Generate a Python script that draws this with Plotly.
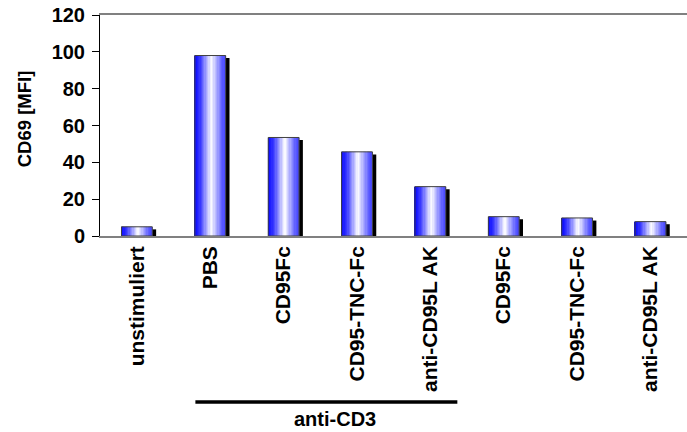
import plotly.graph_objects as go

labels = ["unstimuliert", "PBS", "CD95Fc", "CD95-TNC-Fc", "anti-CD95L AK",
          "CD95Fc", "CD95-TNC-Fc", "anti-CD95L AK"]
values = [5, 98, 53.5, 45.7, 26.8, 10.5, 9.8, 7.8]
y_ticks = [0, 20, 40, 60, 80, 100, 120]
group_label = "anti-CD3"
y_title = "CD69 [MFI]"

positions = list(range(len(labels)))
FONT = "Liberation Sans, Arial, sans-serif"

bar_w = 0.42
n_strips = 24
# gradient profile (t -> rgb) left to right
profile = [(0.0, (0, 0, 255)), (0.2, (60, 60, 255)), (0.4, (170, 170, 255)),
           (0.55, (255, 255, 255)), (0.72, (175, 175, 255)), (0.9, (95, 95, 255)),
           (1.0, (70, 70, 255))]


def color_at(t):
    for (t0, c0), (t1, c1) in zip(profile[:-1], profile[1:]):
        if t0 <= t <= t1:
            f = (t - t0) / (t1 - t0)
            c = [round(a + (b - a) * f) for a, b in zip(c0, c1)]
            return f"rgb({c[0]},{c[1]},{c[2]})"
    return "rgb(70,70,255)"


fig = go.Figure()

# shadow
shadow_dx = 0.055
shadow_dy = 1.4
fig.add_trace(go.Bar(
    x=positions, y=values, base=[-shadow_dy] * len(values),
    width=bar_w, offset=-bar_w / 2 + shadow_dx,
    marker=dict(color="black", line=dict(width=0)),
    cliponaxis=False, hoverinfo="skip", showlegend=False))

# gradient strips
sw = bar_w / n_strips
for i in range(n_strips):
    t = (i + 0.5) / n_strips
    fig.add_trace(go.Bar(
        x=positions, y=values,
        width=sw * 1.3, offset=-bar_w / 2 + i * sw,
        marker=dict(color=color_at(t), line=dict(width=0)),
        hoverinfo="skip", showlegend=False))

# outline
fig.add_trace(go.Bar(
    x=positions, y=values, width=bar_w, offset=-bar_w / 2 + sw * 0.15,
    marker=dict(color="rgba(0,0,0,0)", line=dict(color="#404040", width=1)),
    showlegend=False))

fig.update_layout(
    width=687, height=432,
    margin=dict(l=100, r=0, t=15, b=196),
    barmode="overlay",
    plot_bgcolor="white", paper_bgcolor="white",
    font=dict(family=FONT, color="black"),
    xaxis=dict(
        range=[-0.5, 7.5], tickvals=positions, ticktext=labels,
        tickangle=-90, ticks="", showgrid=False, zeroline=False,
        showline=True, linecolor="#808080", linewidth=1.5, mirror=True,
        tickfont=dict(family=FONT, size=21, weight="bold", color="black"),
        ticklabelstandoff=0),
    yaxis=dict(
        range=[0, 120], tickvals=y_ticks, showgrid=False, zeroline=False,
        showline=True, linecolor="black", linewidth=1,
        ticks="outside", ticklen=7, tickcolor="black",
        tickfont=dict(family=FONT, size=20, weight="bold", color="black"),
        ticklabelstandoff=3, ticklabeloverflow="allow"),
    shapes=[dict(type="line", xref="x", yref="paper", x0=0.8, x1=4.37,
                 y0=-0.751, y1=-0.751, line=dict(color="black", width=3.5))],
    annotations=[
        dict(text=group_label, xref="x", yref="paper", x=2.7, y=-0.828,
             showarrow=False, xanchor="center", yanchor="middle",
             font=dict(family=FONT, size=20, weight="bold", color="black")),
        dict(text=y_title, xref="paper", yref="paper", x=-0.128, y=0.532,
             showarrow=False, textangle=-90, xanchor="center", yanchor="middle",
             font=dict(family=FONT, size=18.5, weight="bold", color="black")),
    ],
)

fig.write_html("out.html", config={"displayModeBar": False},
               post_script="document.body.style.margin='0';document.body.style.overflow='hidden';")
